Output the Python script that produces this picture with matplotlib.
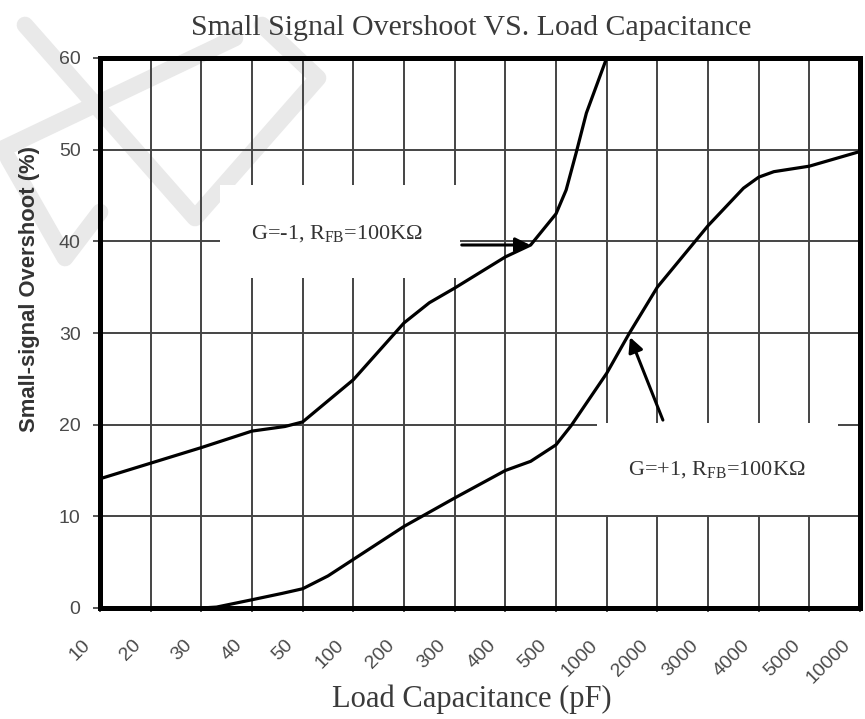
import matplotlib.pyplot as plt
import matplotlib.transforms as mtransforms
from matplotlib.lines import Line2D
from matplotlib.patches import Rectangle

# Small signal overshoot vs load capacitance (datasheet style plot)

cap_labels = ["10", "20", "30", "40", "50", "100", "200", "300", "400", "500",
              "1000", "2000", "3000", "4000", "5000", "10000"]
y_ticks = [0, 10, 20, 30, 40, 50, 60]

# points: position on the category axis, overshoot (%)
inv_pos = [0, 1, 2, 3, 3.65, 4, 5, 6, 6.5, 7, 8, 8.5, 9, 9.2, 9.4, 9.6, 10]
inv_val = [14.1, 15.8, 17.5, 19.3, 19.8, 20.3, 24.9, 31.1, 33.3, 34.9, 38.3,
           39.6, 43.0, 45.6, 49.7, 54.0, 60.0]

non_pos = [0, 1, 2, 2.3, 3, 3.6, 4, 4.5, 5, 6, 7, 8, 8.5, 9, 9.3, 10, 10.45,
           11, 12, 12.7, 13, 13.3, 14, 15]
non_val = [0, 0, 0, 0.1, 0.9, 1.6, 2.1, 3.5, 5.3, 8.9, 12.0, 15.0, 16.0, 17.8,
           19.9, 25.6, 30.0, 35.0, 41.7, 45.8, 47.0, 47.6, 48.2, 49.8]

W, H = 865, 719
fig = plt.figure(figsize=(W / 100, H / 100), dpi=100)
fig.patch.set_facecolor("white")


def px(x, y):
    return x / W, 1 - y / H


# faint watermark in the top left corner
marks = [
    [(25, 25), (195, 218), (318, 78), (262, 25)],
    [(0, 150), (235, 38)],
    [(8, 158), (65, 258), (100, 212)],
]
for m in marks:
    xs, ys = zip(*[px(a, b) for a, b in m])
    fig.add_artist(Line2D(xs, ys, transform=fig.transFigure, color="#e9e9e9",
                          lw=12, solid_capstyle="round", solid_joinstyle="round",
                          zorder=-1))

ax = fig.add_axes([100 / W, 1 - 608 / H, 760 / W, 550 / H])
ax.patch.set_alpha(0)

ax.set_xlim(0, len(cap_labels) - 1)
ax.set_ylim(0, 60)
ax.set_xticks(range(len(cap_labels)))
ax.set_xticklabels(cap_labels, rotation=45, ha="right", va="center",
                   rotation_mode="anchor", fontsize=14, color="#4a4a4a",
                   family="Liberation Sans")
ax.set_yticks(y_ticks)
ax.set_yticklabels([str(v) for v in y_ticks], fontsize=14, color="#4a4a4a",
                   family="Liberation Sans")
ax.tick_params(axis="y", length=5, width=1.4, color="#555555", pad=9)
ax.tick_params(axis="x", length=3, width=1.4, color="#555555", pad=22)
shift = mtransforms.ScaledTranslation(-12 / 100, 0, fig.dpi_scale_trans)
for lab in ax.get_xticklabels():
    lab.set_transform(lab.get_transform() + shift)

ax.set_axisbelow(True)
ax.grid(True, color="#444444", lw=1.4)
for s in ax.spines.values():
    s.set_linewidth(3.6)
    s.set_color("black")

# white boxes behind the two labels
ax.add_patch(Rectangle((2.37, 36.0), 7.1 - 2.37, 46.1 - 36.0, facecolor="white",
                       edgecolor="none", zorder=1))
ax.add_patch(Rectangle((9.81, 10.15), 14.57 - 9.81, 20.2 - 10.15, facecolor="white",
                       edgecolor="none", zorder=1))

ax.plot(inv_pos, inv_val, color="black", lw=2.3, zorder=3,
        solid_joinstyle="round", clip_on=True)
ax.plot(non_pos, non_val, color="black", lw=2.3, zorder=3,
        solid_joinstyle="round", clip_on=True)

ax.text(4.68, 40.8, r"G=-1, R$_{\mathregular{FB}}$=100KΩ", ha="center", va="center",
        fontsize=16, family="Liberation Serif", color="#333333", zorder=4)
ax.text(12.18, 15.05, r"G=+1, R$_{\mathregular{FB}}$=100KΩ", ha="center", va="center",
        fontsize=16, family="Liberation Serif", color="#333333", zorder=4)

arrow = dict(arrowstyle="-|>", lw=2.2, color="black", mutation_scale=22,
             shrinkA=0, shrinkB=0)
ax.annotate("", xy=(8.49, 39.6), xytext=(7.14, 39.6), arrowprops=arrow, zorder=4)
ax.annotate("", xy=(10.46, 29.55), xytext=(11.11, 20.5), arrowprops=arrow, zorder=4)

fig.text(*px(471, 28), "Small Signal Overshoot VS. Load Capacitance", ha="center",
         va="center", fontsize=21.5, family="Liberation Serif", color="#3a3a3a")
fig.text(*px(472, 699), "Load Capacitance (pF)", ha="center", va="center",
         fontsize=22, family="Liberation Serif", color="#3a3a3a")
fig.text(*px(30, 289), "Small-signal Overshoot (%)", ha="center", va="center",
         rotation=90, fontsize=15.8, fontweight="bold", family="Liberation Sans",
         color="#333333")

fig.savefig("out.png", dpi=100)
